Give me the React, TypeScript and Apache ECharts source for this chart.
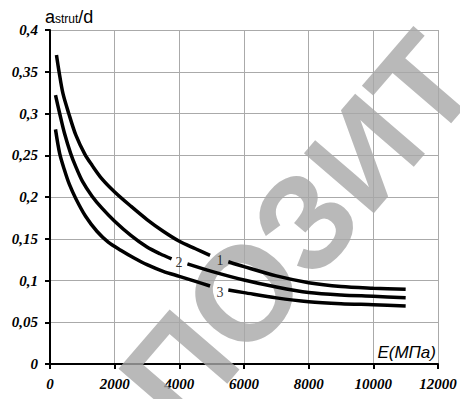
import React, { useEffect, useRef } from "react";
import * as echarts from "echarts";

// Curve 1 (upper), split around its label
const curve1Left: [number, number][] = [
  [200, 0.37], [280, 0.35], [400, 0.324], [580, 0.3], [800, 0.274], [1080, 0.251],
  [1300, 0.238], [1600, 0.222], [2000, 0.206], [2500, 0.189], [3000, 0.173],
  [3500, 0.159], [4000, 0.147], [4500, 0.138], [4950, 0.13],
];
const curve1Right: [number, number][] = [
  [5515, 0.1225], [6000, 0.1166], [7000, 0.1055], [8000, 0.0974], [9000, 0.0928],
  [10000, 0.0908], [11000, 0.0894],
];
// Curve 2 (middle)
const curve2Left: [number, number][] = [
  [170, 0.322], [300, 0.3], [450, 0.276], [640, 0.252], [800, 0.236], [1000, 0.219],
  [1300, 0.201], [1600, 0.187], [2000, 0.171], [2500, 0.154], [3000, 0.14],
  [3400, 0.132], [3760, 0.126],
];
const curve2Right: [number, number][] = [
  [4250, 0.12], [5000, 0.111], [6000, 0.1006], [7000, 0.0922], [8000, 0.0856],
  [9000, 0.0826], [10000, 0.0811], [11000, 0.0794],
];
// Curve 3 (lower)
const curve3Left: [number, number][] = [
  [170, 0.281], [300, 0.252], [450, 0.232], [600, 0.215], [800, 0.198], [1100, 0.177],
  [1450, 0.159], [1800, 0.146], [2200, 0.136], [2600, 0.127], [3000, 0.119],
  [3500, 0.111], [4000, 0.105], [4500, 0.099], [4950, 0.0934],
];
const curve3Right: [number, number][] = [
  [5515, 0.0886], [6000, 0.0855], [7000, 0.0792], [8000, 0.0746], [9000, 0.0722],
  [10000, 0.071], [11000, 0.0695],
];

const curveLabels: string[] = ["1", "2", "3"];
const labelE: number[] = [5258, 3990, 5258];
const labelY: number[] = [0.1234, 0.121, 0.0854];

const X_MIN = 0;
const X_MAX = 12000;
const X_STEP = 2000;
const Y_MIN = 0;
const Y_MAX = 0.4;
const Y_STEP = 0.05;

export default function App() {
  const ref = useRef<HTMLDivElement>(null);

  useEffect(() => {
    if (!ref.current) return;
    const chart = echarts.init(ref.current, undefined, { renderer: "svg" });

    const lineSeries = [curve1Left, curve1Right, curve2Left, curve2Right, curve3Left, curve3Right].map(
      (d) => ({
        type: "line",
        data: d,
        smooth: 0.3,
        showSymbol: false,
        symbol: "none",
        lineStyle: { color: "#000", width: 3.5 },
        z: 3,
      })
    );

    const serif = "Liberation Serif";
    const sans = "Liberation Sans";

    chart.setOption({
      animation: false,
      backgroundColor: "#fff",
      textStyle: {
        fontFamily: serif,
        fontStyle: "italic",
        fontWeight: "bold",
        fontSize: 15,
        color: "#000",
      },
      grid: { left: 50, right: 22, top: 30, bottom: 35, containLabel: false },
      xAxis: {
        type: "value",
        min: X_MIN,
        max: X_MAX,
        interval: X_STEP,
        axisLine: { show: true, onZero: false, lineStyle: { color: "#000", width: 2 } },
        axisTick: { show: true, inside: false, length: 5, lineStyle: { color: "#000", width: 2 } },
        axisLabel: {
          margin: 12,
          color: "#000",
          fontFamily: serif,
          fontStyle: "italic",
          fontWeight: "bold",
          fontSize: 15,
          formatter: (v: number) => String(v),
        },
        splitLine: { show: true, lineStyle: { color: "#aaa", width: 1 } },
      },
      yAxis: {
        type: "value",
        min: Y_MIN,
        max: Y_MAX,
        interval: Y_STEP,
        axisLine: { show: true, onZero: false, lineStyle: { color: "#000", width: 2 } },
        axisTick: { show: true, inside: false, length: 5, lineStyle: { color: "#000", width: 2 } },
        axisLabel: {
          margin: 12,
          color: "#000",
          fontFamily: serif,
          fontStyle: "italic",
          fontWeight: "bold",
          fontSize: 15,
          formatter: (v: number) => String(Number(v.toFixed(2))).replace(".", ","),
        },
        splitLine: { show: true, lineStyle: { color: "#aaa", width: 1 } },
      },
      graphic: [
        {
          type: "text",
          x: 298,
          y: 230,
          rotation: 0.86,
          z: 1,
          silent: true,
          style: {
            text: "ПОЗИТ",
            fontSize: 134,
            fontWeight: "bold",
            fontStyle: "normal",
            fontFamily: sans,
            fill: "#a8a8a8",
            opacity: 0.8,
            align: "center",
            verticalAlign: "middle",
          },
        },
        {
          type: "text",
          x: 45,
          y: 26,
          z: 10,
          style: {
            text: "{a|a}{s|strut}{a|/d}",
            align: "left",
            verticalAlign: "bottom",
            rich: {
              a: { fontSize: 18, fontFamily: sans, fontStyle: "normal", fontWeight: "normal", fill: "#000", verticalAlign: "bottom" },
              s: { fontSize: 12, fontFamily: sans, fontStyle: "normal", fontWeight: "normal", fill: "#000", verticalAlign: "bottom", padding: [0, 0, 1, 0] },
            },
          },
        },
        {
          type: "text",
          x: 436,
          y: 352,
          z: 10,
          style: {
            text: "E(МПа)",
            fontSize: 17,
            fontStyle: "italic",
            fontWeight: "normal",
            fontFamily: sans,
            fill: "#000",
            align: "right",
            verticalAlign: "middle",
          },
        },
      ],
      series: [
        ...lineSeries,
        {
          type: "scatter",
          data: curveLabels.map((t, i) => ({ name: t, value: [labelE[i], labelY[i]] })),
          symbolSize: 1,
          itemStyle: { color: "transparent" },
          z: 4,
          label: {
            show: true,
            position: "inside",
            formatter: (p: any) => p.name,
            color: "#000",
            fontFamily: serif,
            fontStyle: "normal",
            fontWeight: "normal",
            fontSize: 14,
          },
        },
      ],
    });

    return () => chart.dispose();
  }, []);

  return <div ref={ref} style={{ width: 460, height: 399, position: "absolute", left: 0, top: 0 }} />;
}
